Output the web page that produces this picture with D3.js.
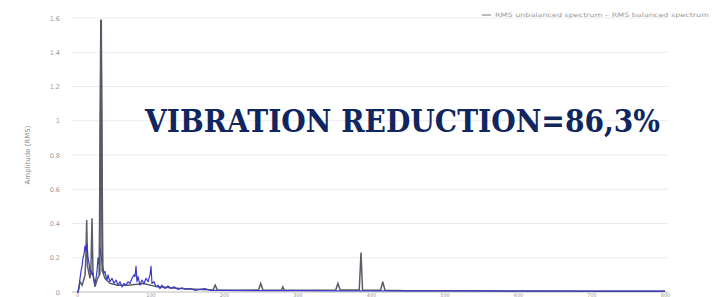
<!DOCTYPE html>
<html><head><meta charset="utf-8">
<script src="https://cdn.jsdelivr.net/npm/d3@7"></script>
<style>html,body{margin:0;padding:0;background:#fff;}svg{display:block;}</style>
</head><body>
<svg id="c" width="725" height="297"></svg>
<script>
// Frequency (Hz) and RMS amplitude
const beforeFreq = [0, 1.4, 4, 7, 11, 12, 13.2, 14.3, 17.7, 19, 20.4, 21.8, 24.5, 28, 30.6, 32.7, 34.7, 38, 45, 55, 70, 90, 110, 140, 170, 185, 188, 191, 220, 247, 250, 253, 278, 280, 282, 320, 352, 355, 358, 384, 386.4, 388.5, 413, 416, 419, 450, 500, 560, 620, 700, 760, 800];
const beforeAmp  = [0, 0, 0.06, 0.04, 0.1, 0.2, 0.42, 0.15, 0.08, 0.15, 0.43, 0.1, 0.03, 0.08, 0.1, 1.59, 0.12, 0.08, 0.05, 0.04, 0.04, 0.05, 0.03, 0.02, 0.015, 0.012, 0.04, 0.012, 0.01, 0.012, 0.05, 0.012, 0.01, 0.03, 0.01, 0.01, 0.012, 0.05, 0.012, 0.012, 0.23, 0.012, 0.01, 0.06, 0.01, 0.008, 0.008, 0.006, 0.006, 0.005, 0.005, 0.005];
const afterFreq = [0, 1.4, 2.7, 4.1, 5.4, 6.8, 8.2, 9.5, 10.9, 12.2, 13.6, 15, 16.3, 17.7, 19, 20.4, 21.8, 23.1, 24.5, 25.9, 27.2, 28.6, 29.9, 31.3, 32.7, 34, 35.4, 36.7, 38.1, 39.5, 40.8, 42.2, 43.5, 44.9, 47.6, 50.3, 53, 55.8, 58.5, 61.2, 63.9, 66.7, 69.4, 72.1, 74.8, 77.6, 78.9, 80.3, 81.6, 83, 85.7, 88.4, 91.2, 93.9, 96.6, 99.3, 100.7, 102, 104.8, 107.5, 110.2, 112.9, 115.6, 119.7, 123.8, 127.9, 132, 137.4, 142.9, 148.3, 153.7, 160.5, 167.3, 174, 181, 200, 240, 300, 360, 420, 480, 560, 640, 720, 800];
const afterAmp  = [0, 0, 0.02, 0.08, 0.12, 0.15, 0.2, 0.22, 0.27, 0.24, 0.28, 0.2, 0.17, 0.12, 0.13, 0.1, 0.11, 0.07, 0.05, 0.08, 0.12, 0.2, 0.16, 0.26, 0.22, 0.17, 0.14, 0.11, 0.12, 0.09, 0.07, 0.1, 0.08, 0.06, 0.08, 0.05, 0.07, 0.04, 0.06, 0.03, 0.05, 0.04, 0.06, 0.05, 0.08, 0.1, 0.09, 0.15, 0.06, 0.09, 0.04, 0.07, 0.05, 0.08, 0.06, 0.1, 0.15, 0.05, 0.06, 0.03, 0.04, 0.02, 0.04, 0.02, 0.035, 0.02, 0.03, 0.015, 0.025, 0.015, 0.02, 0.01, 0.015, 0.02, 0.01, 0.01, 0.008, 0.008, 0.007, 0.007, 0.006, 0.006, 0.005, 0.005, 0.005];
const yTicks = [0, 0.2, 0.4, 0.6, 0.8, 1, 1.2, 1.4, 1.6];
const yTickLabels = ["0", "0.2", "0.4", "0.6", "0.8", "1", "1.2", "1.4", "1.6"];
const xTicks = [0, 100, 200, 300, 400, 500, 600, 700, 800];
const legendText = "RMS unbalanced spectrum \u2013 RMS balanced spectrum";
const titleText = "VIBRATION REDUCTION=86,3%";
const yLabel = "Amplitude (RMS)";

const svg = d3.select("#c");
const x = d3.scaleLinear().domain([0, 800]).range([77, 665]);
const y = d3.scaleLinear().domain([0, 1.6]).range([292, 18]);

// gridlines
svg.append("g").selectAll("line").data(yTicks.slice(1)).join("line")
  .attr("x1", 72).attr("x2", 668)
  .attr("y1", d => y(d)).attr("y2", d => y(d))
  .attr("stroke", "#ebebeb").attr("stroke-width", 1);

// y tick labels
svg.append("g").selectAll("text").data(yTicks).join("text")
  .attr("x", 60).attr("y", d => y(d) + 2.5)
  .attr("text-anchor", "end")
  .attr("font-family", "DejaVu Sans").attr("font-size", 6.5).attr("fill", "#9a9a9a")
  .text((d, i) => yTickLabels[i]);

// x axis
const xAxis = d3.axisBottom(x).tickValues(xTicks).tickSize(0).tickPadding(0).tickFormat(d3.format("d"));
const gx = svg.append("g").attr("transform", `translate(0,${y(0)})`).call(xAxis);
gx.select(".domain").attr("stroke", "#bbb").attr("d", `M72,0H668`);
gx.selectAll("text").attr("font-family", "DejaVu Sans").attr("font-size", 5)
  .attr("fill", "#9a9a9a").attr("dy", null).attr("y", 4.5);

// y label
svg.append("text")
  .attr("transform", "translate(30,155) rotate(-90)")
  .attr("text-anchor", "middle")
  .attr("font-family", "DejaVu Sans").attr("font-size", 7).attr("fill", "#8a8a8a")
  .text(yLabel);

const line = d3.line().x(d => x(d[0])).y(d => y(d[1]));
const before = beforeFreq.map((f, i) => [f, beforeAmp[i]]);
const after = afterFreq.map((f, i) => [f, afterAmp[i]]);

svg.append("path").datum(before).attr("d", line)
  .attr("fill", "none").attr("stroke", "#5a5e6a").attr("stroke-width", 1.5);
svg.append("path").datum(after).attr("d", line)
  .attr("fill", "none").attr("stroke", "#3a3ac8").attr("stroke-width", 1.2).attr("stroke-linejoin", "round");
// main peak drawn on top
const peakIdx = beforeAmp.indexOf(d3.max(beforeAmp));
svg.append("path").datum(before.slice(peakIdx - 1, peakIdx + 2)).attr("d", line)
  .attr("fill", "none").attr("stroke", "#555a66").attr("stroke-width", 2);

// legend
svg.append("line").attr("x1", 482).attr("x2", 491).attr("y1", 15).attr("y2", 15)
  .attr("stroke", "#777").attr("stroke-width", 1);
svg.append("text").attr("x", 495).attr("y", 17)
  .attr("font-family", "DejaVu Sans").attr("font-size", 6).attr("fill", "#999")
  .attr("textLength", 214).attr("lengthAdjust", "spacingAndGlyphs")
  .text(legendText);

// title
svg.append("text").attr("x", 145).attr("y", 132)
  .attr("font-family", "DejaVu Serif").attr("font-weight", "bold").attr("font-size", 31)
  .attr("fill", "#10265f")
  .attr("textLength", 515).attr("lengthAdjust", "spacingAndGlyphs")
  .text(titleText);
</script>
</body></html>
